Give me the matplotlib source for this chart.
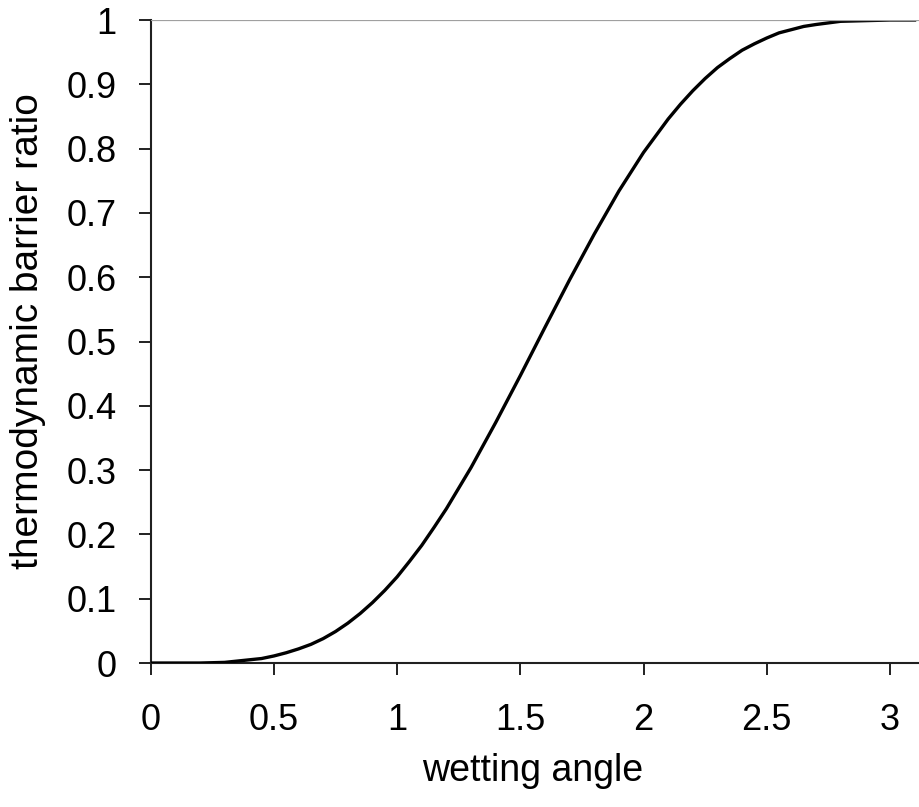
import numpy as np
import matplotlib.pyplot as plt

# wetting angle (rad) and barrier ratio
angle = [0.0, 0.1, 0.2, 0.3, 0.4, 0.45, 0.5, 0.55, 0.6, 0.65, 0.7, 0.75, 0.8, 0.85,
         0.9, 0.95, 1.0, 1.05, 1.1, 1.15, 1.2, 1.3, 1.4, 1.5, 1.6, 1.7, 1.8, 1.9,
         2.0, 2.1, 2.15, 2.2, 2.25, 2.3, 2.35, 2.4, 2.45, 2.5, 2.55, 2.6, 2.65,
         2.7, 2.8, 2.9, 3.0, 3.1]
ratio = [0.000, 0.000, 0.000, 0.001, 0.005, 0.007, 0.011, 0.016, 0.022, 0.029, 0.038,
         0.049, 0.062, 0.077, 0.094, 0.113, 0.134, 0.158, 0.183, 0.211, 0.240, 0.304,
         0.374, 0.447, 0.522, 0.596, 0.667, 0.734, 0.794, 0.846, 0.869, 0.890, 0.909,
         0.926, 0.940, 0.953, 0.963, 0.972, 0.980, 0.985, 0.990, 0.993, 0.998, 0.999,
         1.000, 1.000]

xticks = [0, 0.5, 1, 1.5, 2, 2.5, 3]
yticks = [0, 0.1, 0.2, 0.3, 0.4, 0.5, 0.6, 0.7, 0.8, 0.9, 1]

plt.rcParams['font.family'] = ['Liberation Sans', 'DejaVu Sans']

fig = plt.figure(figsize=(9.19, 8.07), dpi=100)
ax = fig.add_axes([0.164, 0.1784, 0.836, 0.7968])

ax.plot(angle, ratio, color='black', lw=2.4, solid_joinstyle='round', zorder=3)
ax.axhline(1.0, color='#a0a0a0', lw=1.6, zorder=4)

ax.set_xlim(0, 3.118)
ax.set_ylim(0, 1)
ax.set_xticks(xticks)
ax.set_xticklabels(['0', '0.5', '1', '1.5', '2', '2.5', '3'])
ax.set_yticks(yticks)
ax.set_yticklabels(['0', '0.1', '0.2', '0.3', '0.4', '0.5', '0.6', '0.7', '0.8', '0.9', '1'])

for side in ['top', 'right']:
    ax.spines[side].set_visible(False)
for side in ['left', 'bottom']:
    ax.spines[side].set_color('#202020')
    ax.spines[side].set_linewidth(1.5)

ax.tick_params(axis='both', direction='out', length=8.6, width=1.4, color='#202020',
               labelsize=26)
ax.tick_params(axis='y', pad=16)
ax.tick_params(axis='x', pad=20)

ax.set_xlabel('wetting angle', fontsize=27)
ax.set_ylabel('thermodynamic barrier ratio', fontsize=28)
ax.xaxis.set_label_coords(0.4965, -0.168)
ax.yaxis.set_label_coords(-0.160, 0.516)
ax.xaxis.label.set_va('center')
ax.yaxis.label.set_va('center')

fig.savefig('out.png', dpi=100)
